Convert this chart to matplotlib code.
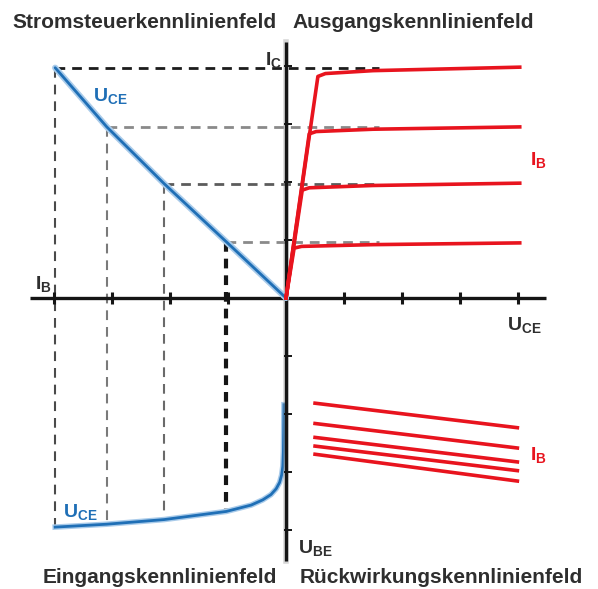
import matplotlib
matplotlib.use("Agg")
import matplotlib.pyplot as plt

plt.rcParams['font.family'] = ['Liberation Sans', 'DejaVu Sans']
plt.rcParams['mathtext.fontset'] = 'custom'
plt.rcParams['mathtext.rm'] = 'Liberation Sans'
plt.rcParams['mathtext.bf'] = 'Liberation Sans:bold'
plt.rcParams['lines.scale_dashes'] = False

# Stromsteuerkennlinie: I_B (links negativ) gegen I_C
ctrl_ib = [0.0, -1.03, -2.10, -3.09, -3.98]
ctrl_ic = [0.0, 0.97, 1.97, 2.95, 3.97]

# Ausgangskennlinien: U_CE gegen I_C, eine Kurve je I_B
out_uce = [[0.0, 0.55, 0.68, 1.5, 4.03],
           [0.0, 0.40, 0.52, 1.5, 4.03],
           [0.0, 0.28, 0.40, 1.5, 4.03],
           [0.0, 0.14, 0.27, 1.5, 4.03]]
out_ic = [[0.0, 3.82, 3.87, 3.92, 3.98],
          [0.0, 2.83, 2.87, 2.91, 2.95],
          [0.0, 1.86, 1.90, 1.94, 1.98],
          [0.0, 0.86, 0.89, 0.92, 0.95]]

# Eingangskennlinie: I_B gegen U_BE (nach unten)
in_ib = [-3.98, -3.09, -2.10, -1.03, -0.60, -0.40, -0.26, -0.17, -0.11,
         -0.075, -0.055, -0.045, -0.04, -0.035]
in_ube = [-3.95, -3.90, -3.82, -3.68, -3.57, -3.48, -3.39, -3.29, -3.18,
          -3.05, -2.90, -2.65, -2.30, -1.84]

# Rückwirkungskennlinien: U_CE gegen U_BE
fb_uce = [0.47, 4.02]
fb_start = [-1.81, -2.16, -2.40, -2.55, -2.69]
fb_end = [-2.24, -2.59, -2.83, -2.98, -3.16]

ticks = [1, 2, 3, 4]

# Hilfslinien (Projektionen)
h_colors = ['#8a8a8a', '#5c5c5c', '#8a8a8a', '#1c1c1c']
v_colors = ['#151515', '#6a6a6a', '#7a7a7a', '#4a4a4a']
v_widths = [3.0, 1.5, 1.5, 1.5]
v_ends = [-3.68, -3.82, -3.90, -3.95]

RED = '#e8141e'
BLUE = '#1f6fb6'
GREY = '#2e2e2e'

fig = plt.figure(figsize=(5.98, 5.89), dpi=100, facecolor='white')
ax = fig.add_axes([0, 0, 1, 1])
ax.set_xlim(-286 / 58, 312 / 58)
ax.set_ylim(-291 / 58, 298 / 58)
ax.axis('off')

# gestrichelte Verbindungslinien
for i in range(1, 5):
    ax.plot([ctrl_ib[i], 1.6], [ctrl_ic[i], ctrl_ic[i]], color=h_colors[i - 1],
            lw=2.0, linestyle=(0, (7, 5)), zorder=1)
    ax.plot([ctrl_ib[i], ctrl_ib[i]], [ctrl_ic[i], v_ends[i - 1]],
            color=v_colors[i - 1], lw=v_widths[i - 1],
            linestyle=(0, (7, 5)), zorder=1)

# Eingangskennlinie (teilweise hinter der Achse)
ax.plot(in_ib, in_ube, color='#a9cbea', lw=4.0, zorder=2)
ax.plot(in_ib, in_ube, color=BLUE, lw=2.0, zorder=2)

# Achsen
ax.plot([-4.41, 4.48], [0, 0], color='#151515', lw=2.4, solid_capstyle='butt', zorder=3)
ax.plot([0, 0], [4.41, -4.53], color='#999999', lw=4.0, alpha=0.4, zorder=3)
ax.plot([0, 0], [4.41, -4.53], color='#151515', lw=2.4, solid_capstyle='butt', zorder=3)

for t in ticks:
    ax.plot([t, -t], [0, 0], linestyle='none', marker='|', markersize=9,
            mew=2.2, color='#151515', zorder=3)
    ax.plot([0.04, 0.04], [-t, t], linestyle='none', marker='_', markersize=6,
            mew=1.4, color='#151515', zorder=3)

# Stromsteuerkennlinie
ax.plot(ctrl_ib, ctrl_ic, color='#a9cbea', lw=4.5, zorder=4, solid_capstyle='round')
ax.plot(ctrl_ib, ctrl_ic, color=BLUE, lw=2.0, zorder=5, solid_capstyle='round')

# Ausgangskennlinien
for u, i in zip(out_uce, out_ic):
    ax.plot(u, i, color=RED, lw=2.6, zorder=5, solid_joinstyle='round')

# Rückwirkungskennlinien
for s, e in zip(fb_start, fb_end):
    ax.plot(fb_uce, [s, e], color=RED, lw=2.6, zorder=5, solid_capstyle='butt')

# Beschriftungen
title_kw = dict(fontsize=15, fontweight='bold', color=GREY, va='baseline')
ax.text(-4.71, 4.655, 'Stromsteuerkennlinienfeld', ha='left', **title_kw)
ax.text(0.12, 4.655, 'Ausgangskennlinienfeld', ha='left', **title_kw)
ax.text(-4.19, -4.91, 'Eingangskennlinienfeld', ha='left', **title_kw)
ax.text(0.24, -4.91, 'Rückwirkungskennlinienfeld', ha='left', **title_kw)

lab_kw = dict(fontsize=14, va='baseline', ha='left')
ax.text(-0.07, 4.02, r'$\mathbf{I_C}$', color=GREY, fontsize=14, va='baseline', ha='right')
ax.text(-4.33, 0.155, r'$\mathbf{I_B}$', color=GREY, **lab_kw)
ax.text(3.81, -0.55, r'$\mathbf{U_{CE}}$', color=GREY, **lab_kw)
ax.text(0.21, -4.4, r'$\mathbf{U_{BE}}$', color=GREY, **lab_kw)
ax.text(-3.33, 3.4, r'$\mathbf{U_{CE}}$', color=BLUE, **lab_kw)
ax.text(-3.84, -3.78, r'$\mathbf{U_{CE}}$', color=BLUE, **lab_kw)
ax.text(4.2, 2.29, r'$\mathbf{I_B}$', color=RED, **lab_kw)
ax.text(4.2, -2.79, r'$\mathbf{I_B}$', color=RED, **lab_kw)

fig.savefig('out.png', dpi=100, facecolor='white')
